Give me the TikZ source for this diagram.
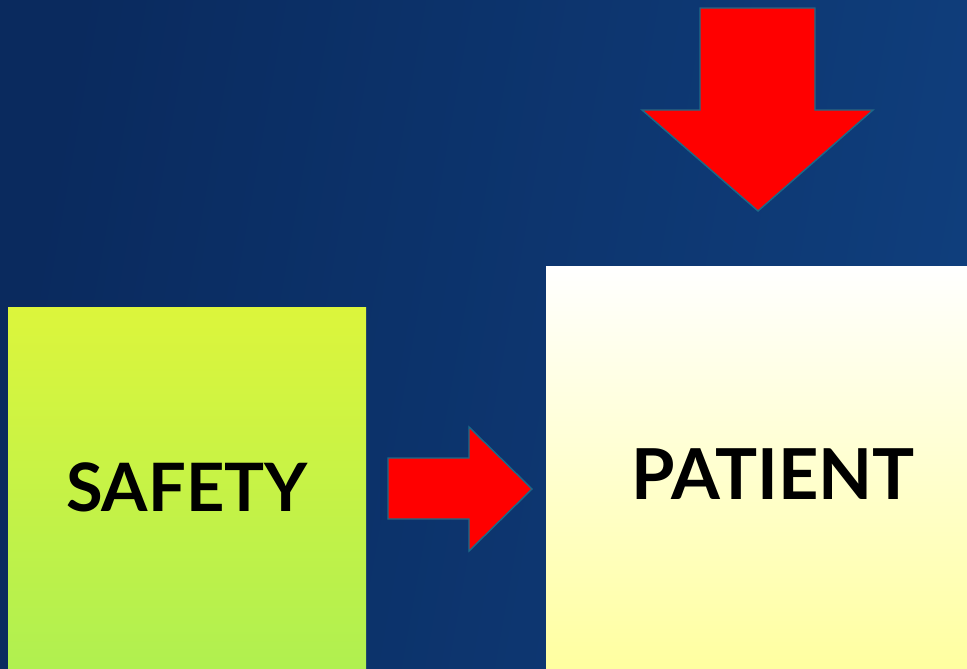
\documentclass[tikz,border=0pt]{standalone}
\usepackage{fontspec}
\setmainfont{Lato}
\usetikzlibrary{positioning}
\definecolor{bgdark}{HTML}{0A2A5E}
\definecolor{bglight}{HTML}{0F3E7C}
\definecolor{safetop}{HTML}{DCF53C}
\definecolor{safebot}{HTML}{B0F050}
\definecolor{patbot}{HTML}{FFFFA0}
\definecolor{arrowred}{HTML}{FF0000}
\definecolor{arrowedge}{HTML}{1C6A88}
\tikzset{
    block/.style={rectangle, inner sep=0pt, font=\fontsize{40}{48}\selectfont\bfseries},
    bigarrow/.style={fill=arrowred, draw=arrowedge, line width=0.8pt, line join=miter},
}
\begin{document}
\begin{tikzpicture}[x=0.02cm, y=-0.02cm]

% ── Background ──
\shade[left color=bgdark, right color=bglight, shading angle=80] (0,0) rectangle (967,669);
\useasboundingbox (0,0) rectangle (967,669);

% ── Boxes ──
\shade[top color=safetop, bottom color=safebot] (8,307) rectangle (366,669);
\shade[top color=white, bottom color=patbot] (546,266) rectangle (967,669);
\node[block, font=\fontsize{38}{46}\selectfont\bfseries] (safety) at (187,487) {SAFETY};
\node[block] (patient) at (773,474) {PATIENT};

% ── Arrows ──
\draw[bigarrow] (700,8) -- (815,8) -- (815,110) -- (873,110) -- (758,211)
    -- (642,110) -- (700,110) -- cycle;
\draw[bigarrow] (388,458) -- (469,458) -- (469,427) -- (532,489) -- (469,551)
    -- (469,519) -- (388,519) -- cycle;

\end{tikzpicture}
\end{document}
